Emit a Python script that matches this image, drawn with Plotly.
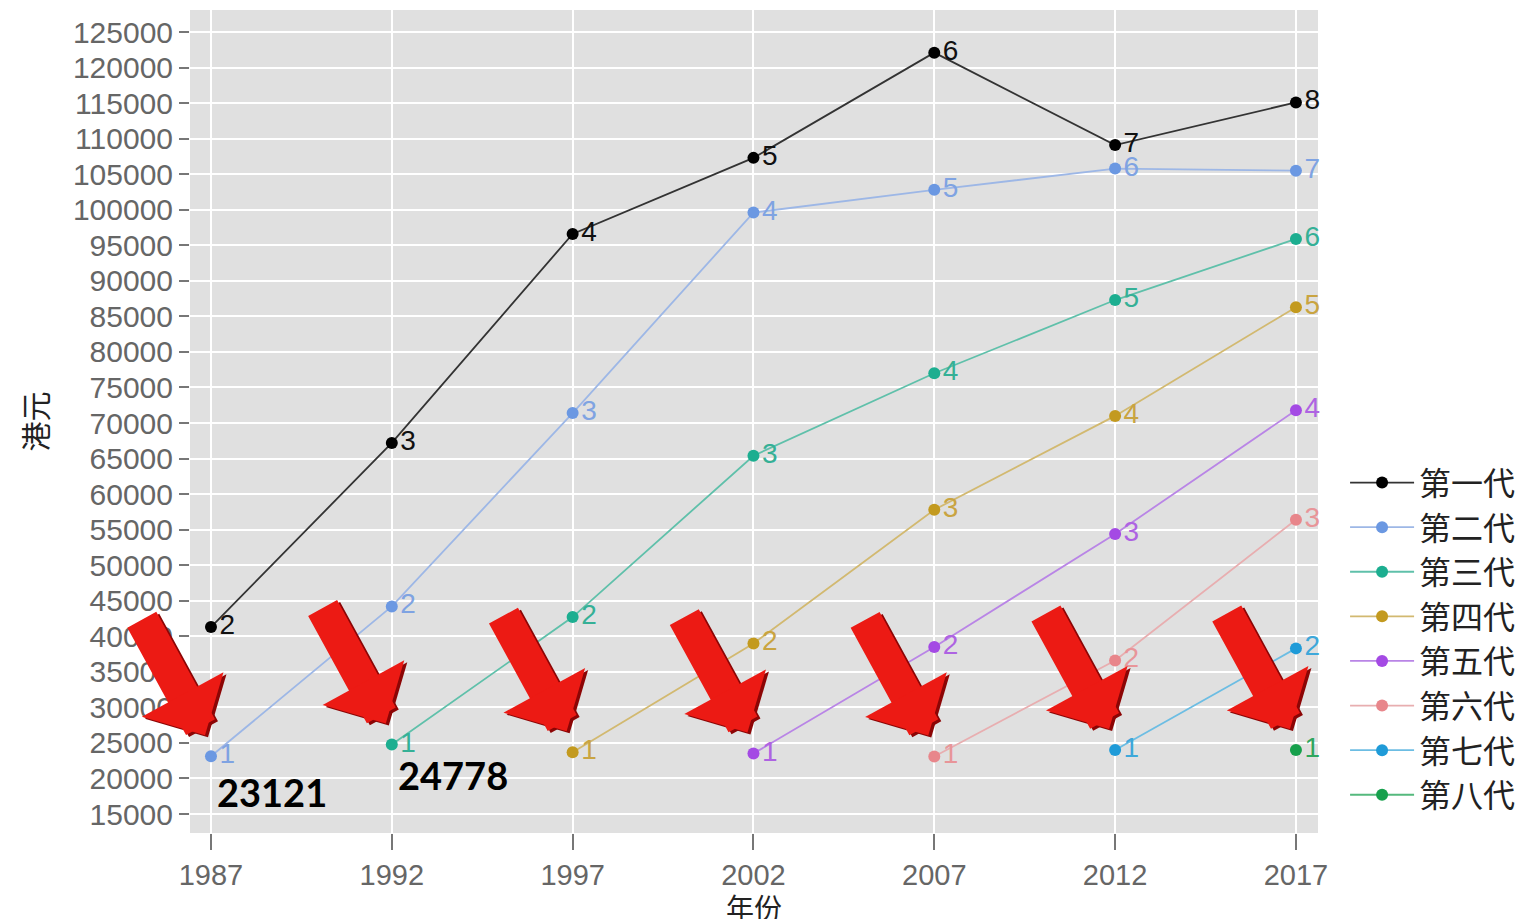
import plotly.graph_objects as go

years = [1987, 1992, 1997, 2002, 2007, 2012, 2017]
series_names = ["第一代", "第二代", "第三代", "第四代", "第五代", "第六代", "第七代", "第八代"]
gen1 = [41300, 67200, 96600, 107300, 122100, 109100, 115100]
gen2 = [23121, 44200, 71400, 99600, 102800, 105800, 105500]
gen3 = [24778, 42700, 65400, 77000, 87300, 95900]
gen4 = [23700, 39000, 57800, 71000, 86300]
gen5 = [23500, 38500, 54400, 71800]
gen6 = [23100, 36600, 56400]
gen7 = [24000, 38300]
gen8 = [24000]
gen1_labels = ["2", "3", "4", "5", "6", "7", "8"]
y_ticks = list(range(15000, 125001, 5000))
highlight_values = [23121, 24778]

all_series = [gen1, gen2, gen3, gen4, gen5, gen6, gen7, gen8]
colors = ["#000000", "#6b98e2", "#1cae90", "#c39a1f", "#a44ae4", "#e8868b", "#1f9bd8", "#16a04c"]
line_colors = ["#333333", "#9db7e6", "#5fc0aa", "#d2b970", "#b985e6", "#e8aeb0", "#6cbde3", "#55b97d"]
label_colors = ["#111111", "#7fa3e2", "#35b096", "#c9a441", "#ae63e2", "#e89599", "#3ea8da", "#2fa75e"]

fig = go.Figure()
for i, vals in enumerate(all_series):
    n = len(vals)
    xs = years[len(years) - n:]
    labels = gen1_labels if i == 0 else [str(k + 1) for k in range(n)]
    fig.add_trace(go.Scatter(
        x=xs, y=vals, name=series_names[i], mode="lines+markers+text",
        text=labels, textposition="middle right",
        textfont=dict(family="Liberation Sans", size=28, color=label_colors[i]),
        line=dict(color=line_colors[i], width=1.8),
        marker=dict(color=colors[i], size=12),
        cliponaxis=False,
    ))

annotations = []
# red arrows pointing at each generation's first point
for i, vals in enumerate(all_series[1:]):
    start_year = years[i]
    for col, dx, dy in [("#8c0505", 3, -2), ("#ec1a14", 0, 0)]:
        annotations.append(dict(
            x=start_year, y=vals[0], xref="x", yref="y", text="",
            showarrow=True, arrowhead=1, arrowsize=0.47, arrowwidth=33,
            arrowcolor=col, ax=-64, ay=-117, xshift=dx - 6, yshift=21 + dy,
        ))

for j, v in enumerate(highlight_values):
    annotations.append(dict(
        x=years[j], y=v, xref="x", yref="y", text="<b>%d</b>" % v,
        showarrow=False, xanchor="left", yanchor="top", xshift=4, yshift=-11 if j == 0 else -5,
        font=dict(family="Lato", size=38, color="#000000"),
    ))

fig.update_layout(
    width=1527, height=919,
    margin=dict(l=182, r=217, t=2, b=94),
    plot_bgcolor="#e0e0e0", paper_bgcolor="#ffffff",
    font=dict(family="Liberation Sans", color="#555555"),
    annotations=annotations,
    legend=dict(
        x=1.024, y=0.459, xanchor="left", yanchor="top",
        font=dict(family="Noto Sans CJK SC", size=32, color="#222222"),
        itemwidth=64, tracegroupgap=0, bgcolor="rgba(0,0,0,0)",
    ),
    showlegend=True,
)
fig.update_xaxes(
    range=[1986.42, 2017.61], tickvals=years, ticktext=[str(y) for y in years],
    showgrid=True, gridcolor="#ffffff", gridwidth=2, zeroline=False,
    ticks="outside", ticklen=16, tickcolor="#777777", tickwidth=1.5,
    tickfont=dict(family="Liberation Sans", size=29, color="#666666"),
    title=dict(text="年份", font=dict(family="Noto Sans CJK SC", size=28, color="#222222"), standoff=0),
    automargin=False, showline=False,
)
fig.update_yaxes(
    range=[12330, 128100], tickvals=y_ticks, ticktext=[str(v) for v in y_ticks],
    showgrid=True, gridcolor="#ffffff", gridwidth=2, zeroline=False,
    ticks="outside", ticklen=10, tickcolor="#777777", tickwidth=1.5,
    tickfont=dict(family="Liberation Sans", size=30, color="#666666"),
    title=dict(text="港元", font=dict(family="Noto Sans CJK SC", size=30, color="#222222"), standoff=16),
    automargin=False, showline=False,
)

fig.write_html("out.html")
